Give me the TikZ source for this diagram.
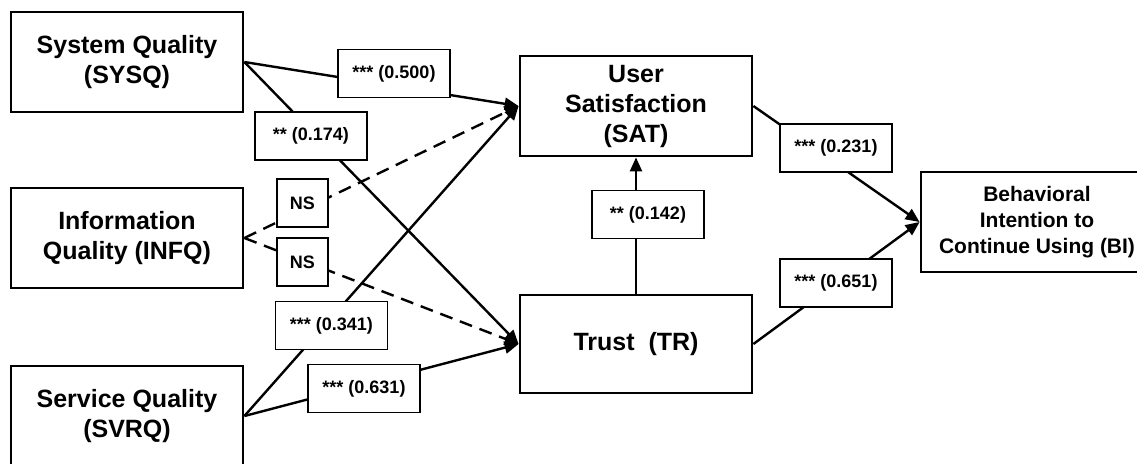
\documentclass[tikz,border=0pt]{standalone}
\usepackage{fontspec}
\setmainfont{Liberation Sans}
\usetikzlibrary{arrows.meta}

\begin{document}
\begin{tikzpicture}[x=0.5pt,y=-0.5pt]
		\tikzset{VertexStyle/.style = {rectangle, draw, line width=1.4pt, minimum width=116pt, minimum height=50pt, align=center, inner sep=2pt, font=\bfseries\fontsize{12.5}{15}\selectfont},
		LabelStyle/.style = {rectangle, draw, line width=0.7pt, fill=white, minimum width=56pt, minimum height=24pt, inner sep=1pt, font=\bfseries\fontsize{9}{11}\selectfont},
		EdgeStyle/.style = {line width=1.2pt, -{Triangle[length=7pt,width=6pt]}}}
		\useasboundingbox (0,0) rectangle (1137,463);
		% constructs
		\node[VertexStyle] (SYSQ) at (127,62) {System Quality\\(SYSQ)};
		\node[VertexStyle] (INFQ) at (127,238) {Information\\Quality (INFQ)};
		\node[VertexStyle] (SVRQ) at (127,416) {Service Quality\\(SVRQ)};
		\node[VertexStyle] (SAT) at (636,106) {User\\Satisfaction\\(SAT)};
		\node[VertexStyle, minimum height=49pt] (TR) at (636,344) {Trust~~(TR)};
		\node[VertexStyle, font=\bfseries\fontsize{10.5}{13}\selectfont] (BI) at (1037,222) {Behavioral\\Intention to\\Continue Using (BI)};
		% paths
		\draw[EdgeStyle] (SYSQ.east) -- (SAT.west);
		\draw[EdgeStyle] (SYSQ.east) -- (TR.west);
		\draw[EdgeStyle, dash pattern=on 6.5pt off 4pt] (INFQ.east) -- (SAT.west);
		\draw[EdgeStyle, dash pattern=on 6.5pt off 4pt] (INFQ.east) -- (TR.west);
		\draw[EdgeStyle] (SVRQ.east) -- (SAT.west);
		\draw[EdgeStyle] (SVRQ.east) -- (TR.west);
		\draw[EdgeStyle] (TR.north) -- (SAT.south);
		\draw[EdgeStyle] (SAT.east) -- (BI.west);
		\draw[EdgeStyle] (TR.east) -- (BI.west);
		% path coefficients
		\node[LabelStyle] (L500) at (394,73.5) {*** (0.500)};
		\node[LabelStyle] (L174) at (311,136) {** (0.174)};
		\node[LabelStyle, minimum width=25.5pt] (NSa) at (302.5,203) {NS};
		\node[LabelStyle, minimum width=25.5pt] (NSb) at (302.5,262) {NS};
		\node[LabelStyle] (L341) at (331.5,325.5) {*** (0.341)};
		\node[LabelStyle] (L631) at (364,388.5) {*** (0.631)};
		\node[LabelStyle] (L142) at (648,214.5) {** (0.142)};
		\node[LabelStyle] (L231) at (836,148) {*** (0.231)};
		\node[LabelStyle] (L651) at (836,283) {*** (0.651)};
	\end{tikzpicture}
\end{document}
